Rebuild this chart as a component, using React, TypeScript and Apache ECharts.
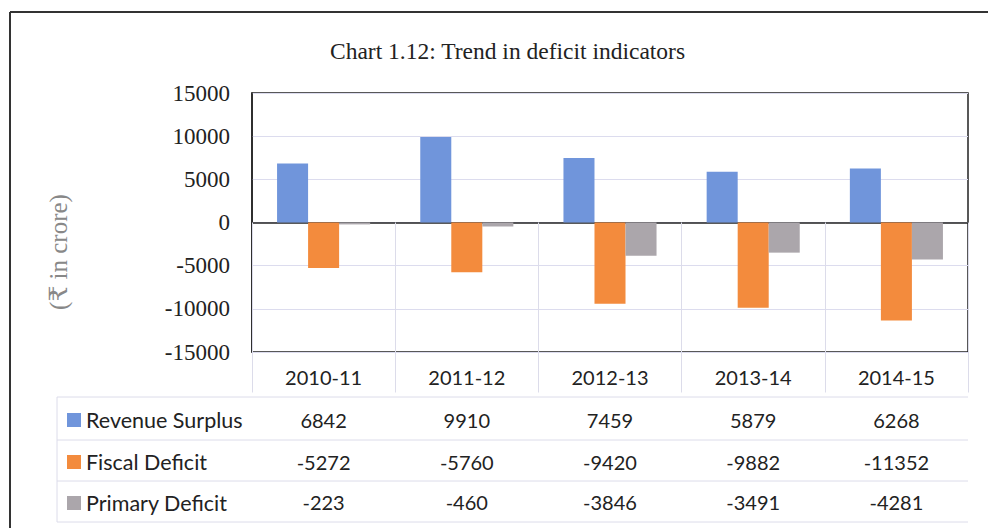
import React, { useEffect, useRef } from "react";
import * as echarts from "echarts";

const categories = ["2010-11", "2011-12", "2012-13", "2013-14", "2014-15"];
const seriesNames = ["Revenue Surplus", "Fiscal Deficit", "Primary Deficit"];
const revenueSurplus = [6842, 9910, 7459, 5879, 6268];
const fiscalDeficit = [-5272, -5760, -9420, -9882, -11352];
const primaryDeficit = [-223, -460, -3846, -3491, -4281];
const yMin = -15000;
const yMax = 15000;
const yInterval = 5000;
const titleText = "Chart 1.12: Trend in deficit indicators";
const yAxisName = "(₹ in crore)";

const colors = ["#7095DB", "#F38B3D", "#ABA6AB"];
const tableFont = "Lato, 'Open Sans', sans-serif";
const serifFont = "'Liberation Serif', 'DejaVu Serif', serif";
const tableLine = "#dcdcea";

export default function App() {
  const ref = useRef<HTMLDivElement>(null);
  useEffect(() => {
    if (!ref.current) return;
    const chart = echarts.init(ref.current, null, { renderer: "svg" });
    const rows = [revenueSurplus, fiscalDeficit, primaryDeficit];
    const gridLeft = 252, gridTop = 93, gridRight = 968, gridBottom = 352;
    const rowLines = [397, 440, 481, 522];
    const legendCenters = [419, 461, 502];
    const hiddenAxis = (values: number[], offset: number) => ({
      type: "category",
      data: categories,
      position: "bottom",
      offset,
      axisLine: { show: false },
      axisTick: { show: false },
      splitLine: { show: false },
      axisLabel: {
        interval: 0,
        margin: 13,
        fontFamily: tableFont,
        fontSize: 20,
        lineHeight: 24,
        color: "#222",
        formatter: (_v: string, i: number) => String(values[i]),
      },
    });
    const graphics: any[] = [
      { type: "line", shape: { x1: 10, y1: 12, x2: 988, y2: 12 }, style: { stroke: "#333", lineWidth: 2 } },
      { type: "line", shape: { x1: 10, y1: 12, x2: 10, y2: 528 }, style: { stroke: "#333", lineWidth: 2 } },
      { type: "line", shape: { x1: 57, y1: rowLines[0], x2: 57, y2: rowLines[3] }, style: { stroke: tableLine, lineWidth: 1 } },
      ...rowLines.map((y) => ({
        type: "line",
        shape: { x1: 57, y1: y, x2: gridRight, y2: y },
        style: { stroke: tableLine, lineWidth: 1 },
      })),
      {
        type: "text",
        x: 58,
        y: 252,
        rotation: Math.PI / 2,
        style: {
          text: yAxisName,
          fontFamily: serifFont,
          fontSize: 25,
          fill: "#888",
          textAlign: "center",
          textVerticalAlign: "middle",
        },
      },
    ];
    chart.setOption({
      animation: false,
      backgroundColor: "#fff",
      title: {
        text: titleText,
        left: 325,
        top: 34,
        textStyle: { fontFamily: serifFont, fontSize: 23.5, fontWeight: "normal", color: "#222" },
      },
      legend: seriesNames.map((name, i) => ({
        orient: "vertical",
        left: 62,
        top: legendCenters[i] - 16,
        itemWidth: 14,
        itemHeight: 14,
        itemGap: 0,
        icon: "rect",
        selectedMode: false,
        data: [name],
        textStyle: { fontFamily: tableFont, fontSize: 21.5, color: "#222", lineHeight: 24 },
      })),
      grid: {
        left: gridLeft,
        top: gridTop,
        width: gridRight - gridLeft,
        height: gridBottom - gridTop,
        show: true,
        borderColor: "#222",
        borderWidth: 1.5,
        containLabel: false,
      },
      xAxis: [
        {
          type: "category",
          data: categories,
          position: "bottom",
          axisLine: { show: true, lineStyle: { color: "#222", width: 1.5 } },
          axisTick: { show: true, interval: 0, length: 170, lineStyle: { color: tableLine, width: 1 } },
          axisLabel: {
            interval: 0,
            margin: 13,
            fontFamily: tableFont,
            fontSize: 20,
            lineHeight: 24,
            color: "#222",
          },
          splitLine: { show: false },
        },
        hiddenAxis(rows[0], 43),
        hiddenAxis(rows[1], 85),
        hiddenAxis(rows[2], 125),
      ],
      yAxis: {
        type: "value",
        min: yMin,
        max: yMax,
        interval: yInterval,
        axisLine: { show: true, lineStyle: { color: "#222", width: 1.5 } },
        axisTick: { show: false },
        axisLabel: {
          margin: 22,
          fontFamily: serifFont,
          fontSize: 23,
          color: "#222",
          formatter: (v: number) => String(v),
        },
        splitLine: { show: true, lineStyle: { color: "#dcdcee", width: 1 } },
      },
      series: rows.map((vals, i) => ({
        name: seriesNames[i],
        type: "bar",
        xAxisIndex: 0,
        data: vals,
        barGap: "0%",
        barCategoryGap: "35%",
        itemStyle: { color: colors[i] },
      })),
      graphic: graphics,
    });
    return () => chart.dispose();
  }, []);
  return (
    <div
      ref={ref}
      style={{ position: "fixed", left: 0, top: 0, width: 988, height: 528 }}
    />
  );
}
